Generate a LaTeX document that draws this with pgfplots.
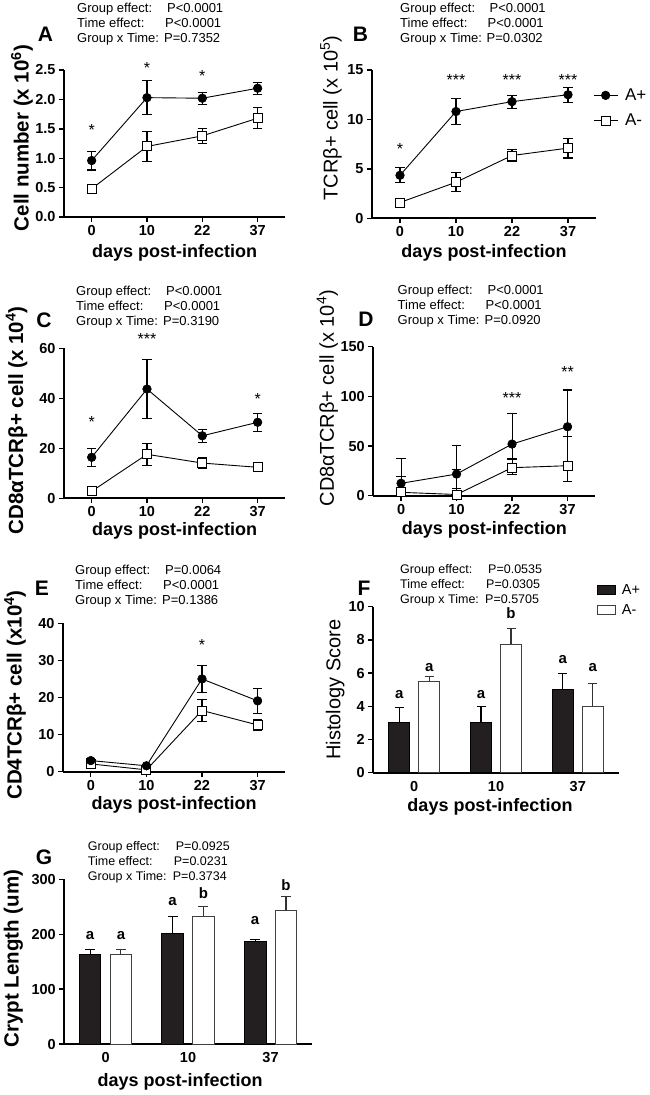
\documentclass[border=0pt]{standalone}
\usepackage{fontspec}
\setmainfont{Liberation Sans}
\usepackage{pgfplots}
\usepackage{pgfplotstable}
\pgfplotsset{compat=1.18}

% ---------- data ----------
\pgfplotstableread{
x y ep em
0 0.96 0.16 0.16
1 2.03 0.29 0.29
2 2.02 0.10 0.10
3 2.19 0.10 0.10
}\Ap
\pgfplotstableread{
x y ep em
0 0.48 0.05 0.05
1 1.20 0.25 0.25
2 1.38 0.13 0.13
3 1.68 0.18 0.18
}\Am
\pgfplotstableread{
x y ep em
0 4.35 0.75 0.75
1 10.8 1.3 1.3
2 11.8 0.65 0.65
3 12.5 0.75 0.75
}\Bp
\pgfplotstableread{
x y ep em
0 1.6 0.2 0.2
1 3.65 0.95 0.95
2 6.35 0.62 0.62
3 7.1 1.0 1.0
}\Bm
\pgfplotstableread{
x y ep em
0 16.4 3.6 3.6
1 43.7 11.7 11.7
2 25.0 2.5 2.5
3 30.4 3.5 3.5
}\Cp
\pgfplotstableread{
x y ep em
0 2.8 0.6 0.6
1 17.6 4.5 4.5
2 14.1 2.3 2.3
3 12.4 1.5 1.5
}\Cm
\pgfplotstableread{
x y ep em
0 12.5 25 12.5
1 21.8 28.5 14.4
2 52 31 15
3 69.4 37 10
}\Dp
\pgfplotstableread{
x y ep em
0 3.4 15.6 3.4
1 1.2 25.3 1.2
2 28.2 8.8 6.7
3 30.2 29.2 16
}\Dm
\pgfplotstableread{
x y ep em
0 3.0 0.5 0.5
1 1.6 0.4 0.4
2 25.0 3.6 3.6
3 19.1 3.4 3.4
}\Ep
\pgfplotstableread{
x y ep em
0 2.1 0.4 0.4
1 0.5 0.3 0.3
2 16.5 3.0 3.0
3 12.6 1.5 1.5
}\Em
\pgfplotstableread{
x y e
0 3.0 0.94
1 3.0 1.0
2 5.0 1.0
}\Fp
\pgfplotstableread{
x y e
0 5.5 0.28
1 7.75 0.92
2 4.0 1.38
}\Fm
\pgfplotstableread{
x y e
0 163 9
1 201 32
2 186 5
}\Gp
\pgfplotstableread{
x y e
0 163 9
1 231.5 19.5
2 242.5 25.5
}\Gm

\definecolor{barblack}{HTML}{231F20}

\pgfplotsset{
  gp/.style={
    scale only axis, clip=false,
    axis x line*=bottom, axis y line*=left,
    axis line style={line width=1.8pt, black},
    tick align=outside, major tick length=5pt,
    tick style={line width=1.4pt, black},
    /pgf/number format/assume math mode=true,
    tick label style={font=\fontsize{14.5}{15}\selectfont\bfseries},
    xlabel={days post-infection},
    xlabel style={font=\fontsize{18}{18}\selectfont\bfseries, anchor=center},
    ylabel style={anchor=center},
  },
  lp/.style={gp, xmin=-0.5, xmax=3.5, xtick={0,1,2,3}, xticklabels={0,10,22,37}, ymin=0},
  bp/.style={gp, ybar, xmin=-0.5, xmax=2.5, xtick={0,1,2}, xticklabels={0,10,37}, ymin=0,
     major x tick style={draw=none}},
  boldlab/.style={ylabel style={font=\fontsize{20.5}{21}\selectfont\bfseries}},
  reglab/.style={ylabel style={font=\fontsize{20}{20}\selectfont}},
  Aplus/.style={black, line width=0.9pt, mark=*, mark size=4.3pt,
     mark options={solid, fill=black, line width=0.6pt},
     error bars/y dir=both, error bars/y explicit,
     error bars/error bar style={line width=1.1pt, black},
     error bars/error mark options={rotate=90, mark size=4.7pt, line width=1.1pt, black}},
  Aminus/.style={black, line width=0.9pt, mark=square*, mark size=4.5pt,
     mark options={solid, fill=white, line width=0.9pt},
     error bars/y dir=both, error bars/y explicit,
     error bars/error bar style={line width=1.1pt, black},
     error bars/error mark options={rotate=90, mark size=4.7pt, line width=1.1pt, black}},
  barleg/.style={legend image code/.code={\draw[##1] (0pt,-4.5pt) rectangle (18.3pt,4.5pt);}},
  BPlus/.style={fill=barblack, draw=black, line width=1pt, barleg,
     error bars/y dir=plus, error bars/y explicit,
     error bars/error bar style={line width=1.1pt, black},
     error bars/error mark options={rotate=90, mark size=#1, line width=1.1pt, black}},
  BMinus/.style={fill=white, draw=black!75, line width=1pt, barleg,
     error bars/y dir=plus, error bars/y explicit,
     error bars/error bar style={line width=1.1pt, black!80},
     error bars/error mark options={rotate=90, mark size=#1, line width=1.1pt, black!80}},
}

\tikzset{
  st/.style={font=\fontsize{16}{16}\selectfont, yshift=-3.5pt, inner sep=0pt},
  lt/.style={font=\fontsize{15}{15}\selectfont\bfseries, inner sep=0pt},
  pl/.style={font=\fontsize{21}{21}\selectfont\bfseries, inner sep=0pt},
}

% P-value block: x, y(mid line centre), P offset, P1, P2, P3, font size
\newcommand\pvals[7]{%
  \begin{scope}[shift={(#1pt,-#2pt)}, every node/.style={anchor=base west, inner sep=0pt, font=\fontsize{#7}{#7}\selectfont}]
    \node at (0pt,10.3pt) {Group effect:};  \node at ([xshift=3pt]#3pt,10.3pt) {#4};
    \node at (0pt,-4.7pt) {Time effect:};   \node at ([xshift=1pt]#3pt,-4.7pt) {#5};
    \node at (0pt,-19.7pt) {Group x Time:}; \node at (#3pt,-19.7pt) {#6};
  \end{scope}}

\begin{document}
\begin{tikzpicture}
\path[use as bounding box] (0pt,0pt) rectangle (650pt,-1095pt);

% ================= A =================
\begin{axis}[lp, boldlab, at={(64pt,-217pt)}, anchor=south west, width=221.3pt, height=147pt,
  ymax=2.5, ytick={0,0.5,1,1.5,2,2.5},
  yticklabel style={/pgf/number format/fixed, /pgf/number format/fixed zerofill, /pgf/number format/precision=1},
  ylabel={Cell number (x 10\textsuperscript{6})},
  ylabel style={at={([xshift=-42pt,yshift=5.5pt]axis description cs:0,0.5)}},
  xlabel style={at={([yshift=-36pt]axis description cs:0.5,0)}}]
\addplot[Aminus] table[x=x,y=y,y error plus=ep,y error minus=em]{\Am};
\addplot[Aplus] table[x=x,y=y,y error plus=ep,y error minus=em]{\Ap};
\node[st] at (axis cs:0,1.54) {*};
\node[st] at (axis cs:1,2.59) {*};
\node[st] at (axis cs:2,2.45) {*};
\end{axis}

% ================= B =================
\begin{axis}[lp, reglab, at={(372pt,-218.3pt)}, anchor=south west, width=224pt, height=148.3pt,
  ymax=15, ytick={0,5,10,15},
  ylabel={TCRβ+ cell (x 10\textsuperscript{5})},
  ylabel style={at={([xshift=-41pt,yshift=26pt]axis description cs:0,0.5)}},
  xlabel style={at={([yshift=-35pt]axis description cs:0.5,0)}},
  legend style={at={([xshift=-3pt]axis description cs:1,0.744)}, anchor=west, draw=none, fill=none,
    inner sep=0pt, row sep=10pt, column sep=6pt, font=\fontsize{17}{17}\selectfont, nodes={inner sep=1pt}},
  legend cell align=left, reverse legend,
  legend image code/.code={\draw[mark repeat=2,mark phase=2,#1] plot coordinates {(0pt,0pt) (12pt,0pt) (24pt,0pt)};}]
\addplot[Aminus] table[x=x,y=y,y error plus=ep,y error minus=em]{\Bm};
\addlegendentry{A-}
\addplot[Aplus] table[x=x,y=y,y error plus=ep,y error minus=em]{\Bp};
\addlegendentry{A+}
\node[st] at (axis cs:0,7.4) {*};
\node[st] at (axis cs:1,14.3) {***};
\node[st] at (axis cs:2,14.3) {***};
\node[st] at (axis cs:3,14.3) {***};
\end{axis}

% ================= C =================
\begin{axis}[lp, boldlab, at={(64pt,-498.3pt)}, anchor=south west, width=221.3pt, height=150pt,
  ymax=60, ytick={0,20,40,60},
  ylabel={CD8αTCRβ+ cell (x 10\textsuperscript{4})},
  ylabel style={at={([xshift=-47.5pt,yshift=3pt]axis description cs:0,0.5)}},
  xlabel style={at={([yshift=-33pt]axis description cs:0.5,0)}}]
\addplot[Aminus] table[x=x,y=y,y error plus=ep,y error minus=em]{\Cm};
\addplot[Aplus] table[x=x,y=y,y error plus=ep,y error minus=em]{\Cp};
\node[st] at (axis cs:0,32) {*};
\node[st] at (axis cs:1,65.3) {***};
\node[st] at (axis cs:3,41) {*};
\end{axis}

% ================= D =================
\begin{axis}[lp, reglab, at={(373.3pt,-495.7pt)}, anchor=south west, width=222pt, height=149pt,
  ymax=150, ytick={0,50,100,150},
  ylabel={CD8αTCRβ+ cell (x 10\textsuperscript{4})},
  ylabel style={at={([xshift=-46pt,yshift=23pt]axis description cs:0,0.5)}},
  xlabel style={at={([yshift=-34pt]axis description cs:0.5,0)}}]
\addplot[Aminus] table[x=x,y=y,y error plus=ep,y error minus=em]{\Dm};
\addplot[Aplus] table[x=x,y=y,y error plus=ep,y error minus=em]{\Dp};
\node[st] at (axis cs:2,102.3) {***};
\node[st] at (axis cs:3,128.2) {**};
\end{axis}

% ================= E =================
\begin{axis}[lp, boldlab, at={(63pt,-771.7pt)}, anchor=south west, width=222.4pt, height=148.4pt,
  ymax=40, ytick={0,10,20,30,40},
  ylabel={CD4TCRβ+ cell (x10\textsuperscript{4})},
  ylabel style={at={([xshift=-48pt,yshift=2.5pt]axis description cs:0,0.5)}},
  xlabel style={at={([yshift=-33.5pt]axis description cs:0.5,0)}}]
\addplot[Aminus] table[x=x,y=y,y error plus=ep,y error minus=em]{\Em};
\addplot[Aplus] table[x=x,y=y,y error plus=ep,y error minus=em]{\Ep};
\node[st] at (axis cs:2,35) {*};
\end{axis}

% ================= F =================
\begin{axis}[bp, reglab, at={(373.3pt,-772.7pt)}, anchor=south west, width=245.4pt, height=166pt,
  bar width=20.7pt,
  ymax=10, ytick={0,2,4,6,8,10},
  ylabel={Histology Score},
  ylabel style={at={([xshift=-38pt,yshift=0pt]axis description cs:0,0.5)}},
  xlabel style={at={([xshift=-6pt,yshift=-34pt]axis description cs:0.5,0)}},
  legend style={at={(axis description cs:0.909,1.04)}, anchor=west, draw=none, fill=none,
    inner sep=0pt, row sep=6pt, column sep=5pt, font=\fontsize{14.5}{14.5}\selectfont, nodes={inner sep=1pt}},
  legend cell align=left]
\addplot[BPlus=4.5pt, bar shift=-15pt] table[x=x,y=y,y error=e]{\Fp};
\addlegendentry{A+}
\addplot[BMinus=4.5pt, bar shift=15pt] table[x=x,y=y,y error=e]{\Fm};
\addlegendentry{A-}
\node[lt, xshift=-15pt] at (axis cs:0,4.68) {a};
\node[lt, xshift=15pt] at (axis cs:0,6.35) {a};
\node[lt, xshift=-15pt] at (axis cs:1,4.68) {a};
\node[lt, xshift=15pt] at (axis cs:1,9.6) {b};
\node[lt, xshift=-15pt] at (axis cs:2,6.8) {a};
\node[lt, xshift=15pt] at (axis cs:2,6.35) {a};
\end{axis}

% ================= G =================
\begin{axis}[bp, boldlab, at={(64.3pt,-1044pt)}, anchor=south west, width=247.5pt, height=164.7pt,
  bar width=21.7pt,
  ymax=300, ytick={0,100,200,300},
  ylabel={Crypt Length (um)},
  ylabel style={at={([xshift=-51pt,yshift=3pt]axis description cs:0,0.5)}},
  xlabel style={at={([xshift=-8pt,yshift=-37.7pt]axis description cs:0.5,0)}}]
\addplot[BPlus=5pt, bar shift=-15.4pt] table[x=x,y=y,y error=e]{\Gp};
\addplot[BMinus=5pt, bar shift=15.4pt] table[x=x,y=y,y error=e]{\Gm};
\node[lt, xshift=-15.4pt] at (axis cs:0,198) {a};
\node[lt, xshift=15.4pt] at (axis cs:0,198) {a};
\node[lt, xshift=-15.4pt] at (axis cs:1,259) {a};
\node[lt, xshift=15.4pt] at (axis cs:1,275) {b};
\node[lt, xshift=-15.4pt] at (axis cs:2,225) {a};
\node[lt, xshift=15.4pt] at (axis cs:2,289) {b};
\end{axis}

% ---------- panel letters ----------
\node[pl] at (45.5pt,-34.5pt) {A};
\node[pl] at (360.5pt,-34.5pt) {B};
\node[pl] at (44pt,-320pt) {C};
\node[pl] at (366pt,-319pt) {D};
\node[pl] at (42pt,-588pt) {E};
\node[pl] at (364pt,-588pt) {F};
\node[pl] at (44pt,-857pt) {G};

% ---------- P-value blocks ----------
\pvals{77}{23}{87}{P<0.0001}{P<0.0001}{P=0.7352}{13}
\pvals{400}{23}{86.5}{P<0.0001}{P<0.0001}{P=0.0302}{13}
\pvals{76}{305.5}{87}{P<0.0001}{P<0.0001}{P=0.3190}{13}
\pvals{397.5}{305}{87}{P<0.0001}{P<0.0001}{P=0.0920}{13}
\pvals{75}{584.5}{87}{P=0.0064}{P<0.0001}{P=0.1386}{13}
\pvals{400}{583.3}{85}{P=0.0535}{P=0.0305}{P=0.5705}{12.5}
\pvals{87.7}{861}{85}{P=0.0925}{P=0.0231}{P=0.3734}{12.5}
\end{tikzpicture}
\end{document}
